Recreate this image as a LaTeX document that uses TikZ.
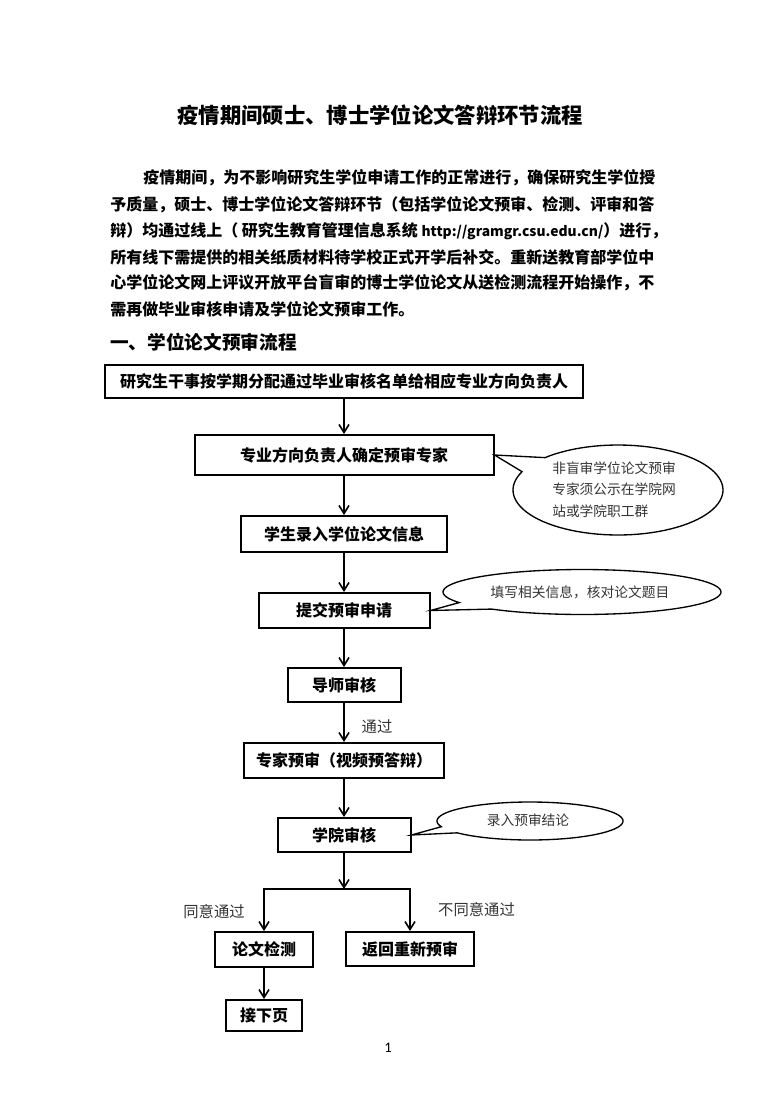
\documentclass[tikz,border=0pt]{standalone}
\usepackage{fontspec}
\usetikzlibrary{arrows.meta,positioning}
\newfontfamily\hei{Noto Sans CJK SC}
\newfontfamily\calib{Carlito}

\begin{document}
\begin{tikzpicture}[x=0.75pt,y=-0.75pt,
	flowbox/.style 2 args={draw,line width=1.5pt,inner sep=0pt,minimum width=#1*0.75pt,minimum height=#2*0.75pt,font=\hei\bfseries\fontsize{12pt}{14pt}\selectfont},
	flowarrow/.style={line width=1.2pt,-{Straight Barb[length=6pt,width=7.5pt]}},
	callout/.style={line width=1pt},
	notetext/.style={inner sep=0pt,text=black!80,font=\hei\fontsize{10.3pt}{16.1pt}\selectfont},
	labeltext/.style={inner sep=0pt,text=black!80,font=\hei\fontsize{11.5pt}{13pt}\selectfont},
	para/.style={inner sep=0pt,anchor=west,font=\hei\bfseries\fontsize{12pt}{14pt}\selectfont}]
		\path [fill=white] (0,0) rectangle (776,1116);
		\useasboundingbox (0,0) rectangle (776,1116);
		\node (title) at (380,115) [font=\hei\bfseries\fontsize{16pt}{18pt}\selectfont] {疫情期间硕士、博士学位论文答辩环节流程};
		\node (line1) at (143,178) [para] {疫情期间，为不影响研究生学位申请工作的正常进行，确保研究生学位授};
		\node (line2) at (110,205) [para] {予质量，硕士、博士学位论文答辩环节（包括学位论文预审、检测、评审和答};
		\node (line3) at (110,231) [para] {辩）均通过线上（ 研究生教育管理信息系统 {\fontsize{10.4pt}{14pt}\selectfont http://gramgr.csu.edu.cn/}）进行，};
		\node (line4) at (110,257) [para] {所有线下需提供的相关纸质材料待学校正式开学后补交。重新送教育部学位中};
		\node (line5) at (110,283) [para] {心学位论文网上评议开放平台盲审的博士学位论文从送检测流程开始操作，不};
		\node (line6) at (110,309) [para] {需再做毕业审核申请及学位论文预审工作。};
		\node (heading) at (110,342) [para,font=\hei\bfseries\fontsize{14pt}{16pt}\selectfont] {一、学位论文预审流程};
		\node (assign) at (344,381.5) [flowbox={478}{33}] {研究生干事按学期分配通过毕业审核名单给相应专业方向负责人};
		\node (expert) at (344,455) [flowbox={299}{40}] {专业方向负责人确定预审专家};
		\node (entry) at (344,534) [flowbox={206}{36}] {学生录入学位论文信息};
		\node (submit) at (344,610.5) [flowbox={171}{35}] {提交预审申请};
		\node (tutor) at (344,685) [flowbox={113}{34}] {导师审核};
		\node (review) at (344,760.5) [flowbox={200}{35}] {专家预审（视频预答辩）};
		\node (college) at (344,835) [flowbox={133}{34}] {学院审核};
		\node (check) at (264,949.5) [flowbox={98}{35}] {论文检测};
		\node (redo) at (410,949) [flowbox={128}{34}] {返回重新预审};
		\node (next) at (264,1015.5) [flowbox={76}{31}] {接下页};
		\coordinate (split) at (344,889);
		\path [draw,flowarrow] (assign) -- (expert);
		\path [draw,flowarrow] (expert) -- (entry);
		\path [draw,flowarrow] (entry) -- (submit);
		\path [draw,flowarrow] (submit) -- (tutor);
		\path [draw,flowarrow] (tutor) -- (review);
		\path [draw,flowarrow] (review) -- (college);
		\path [draw,flowarrow] (college) -- (split);
		\path [draw,flowarrow,{Straight Barb[length=6pt,width=7.5pt]}-{Straight Barb[length=6pt,width=7.5pt]}] (check.north) |- (split) -| (redo.north);
		\path [draw,flowarrow] (check) -- (next);
		\node (pass) at (377,727) [labeltext] {通过};
		\node (agree) at (214,912) [labeltext] {同意通过};
		\node (disagree) at (476.5,910) [labeltext] {不同意通过};
		\path [draw,callout] (expert.east) -- plot [domain=226:564,samples=90] ({618+105*cos(\x)},{490+45*sin(\x)}) -- cycle;
		\path [draw,callout] (submit.east) -- plot [domain=152:490.6,samples=90] ({582+139*cos(\x)},{592+22.5*sin(\x)}) -- cycle;
		\path [draw,callout] (college.east) -- plot [domain=162.5:501.5,samples=90] ({530+93*cos(\x)},{821+19*sin(\x)}) -- cycle;
		\node (notea) at (552,489.5) [notetext,anchor=west,align=left] {非盲审学位论文预审\\专家须公示在学院网\\站或学院职工群};
		\node (noteb) at (580,592) [notetext] {填写相关信息，核对论文题目};
		\node (notec) at (528,820) [notetext] {录入预审结论};
		\node (page) at (388,1048) [font=\calib\fontsize{11pt}{13pt}\selectfont] {1};
	\end{tikzpicture}
\end{document}
